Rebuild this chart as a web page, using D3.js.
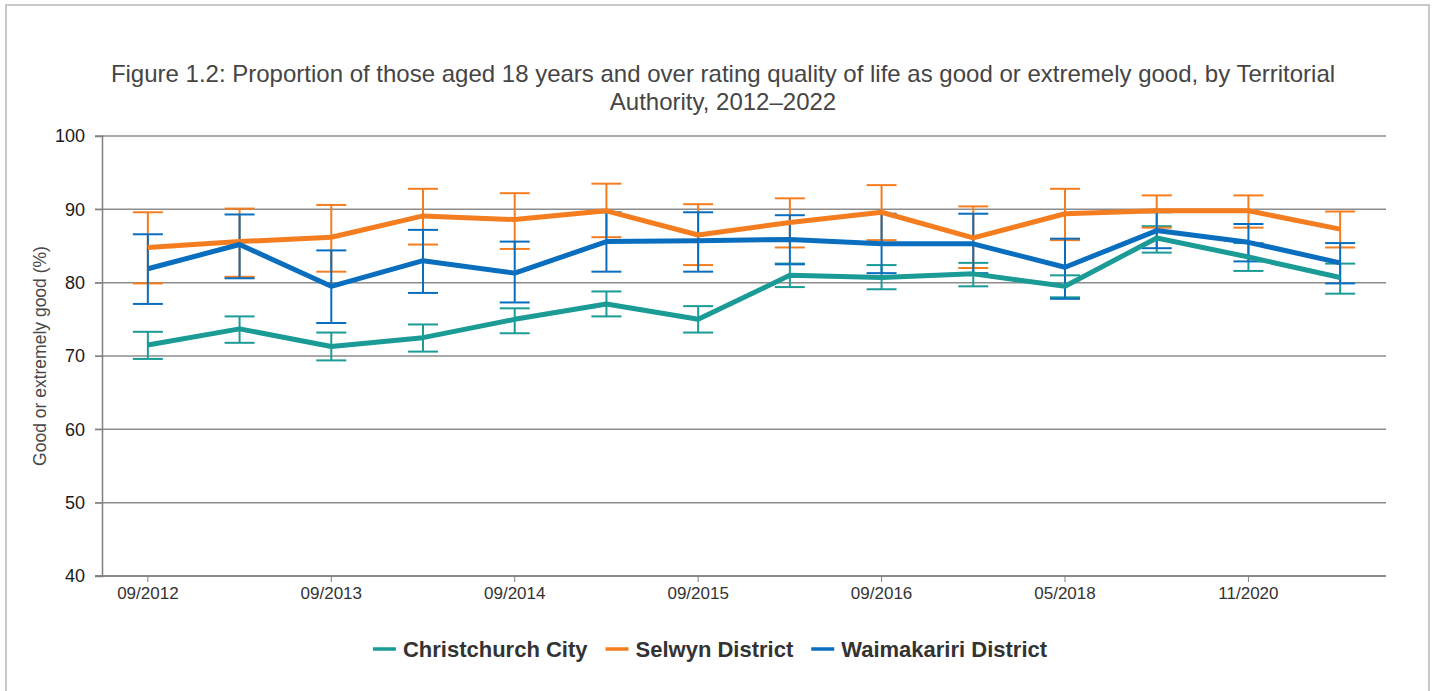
<!DOCTYPE html>
<html>
<head>
<meta charset="utf-8">
<script src="https://cdn.jsdelivr.net/npm/d3@7"></script>
<style>
    body { margin: 0; background: #fff; }
    svg { display: block; }
    .axis path, .axis line { stroke: #808080; }
    .grid line { stroke: #8c8c8c; stroke-width: 1.5; }
</style>
</head>
<body>
<div id="chart"></div>
<script>
// survey periods (only every second one is labelled on the axis)
const periods = ['09/2012', '', '09/2013', '', '09/2014', '', '09/2015', '', '09/2016', '', '05/2018', '', '11/2020', ''];
const seriesNames = ['Christchurch City', 'Selwyn District', 'Waimakariri District'];
const seriesColors = ['#1a9b96', '#f47d20', '#0a6ebf'];
const yTicks = [40, 50, 60, 70, 80, 90, 100];

// values (%) and 95% confidence limits
const christchurch = [71.5, 73.7, 71.3, 72.5, 75.0, 77.1, 75.0, 81.0, 80.7, 81.2, 79.5, 86.1, 83.5, 80.7];
const christchurchLow = [69.6, 71.8, 69.4, 70.6, 73.1, 75.4, 73.2, 79.4, 79.1, 79.5, 78.0, 84.1, 81.6, 78.5];
const christchurchHigh = [73.3, 75.4, 73.2, 74.3, 76.5, 78.8, 76.8, 82.6, 82.4, 82.7, 81.0, 87.7, 85.4, 82.6];

const selwyn = [84.8, 85.6, 86.2, 89.1, 88.6, 89.8, 86.5, 88.2, 89.6, 86.1, 89.4, 89.8, 89.8, 87.3];
const selwynLow = [79.9, 80.8, 81.5, 85.2, 84.6, 86.2, 82.4, 84.8, 85.8, 82.0, 85.8, 87.5, 87.5, 84.8];
const selwynHigh = [89.6, 90.1, 90.6, 92.8, 92.2, 93.5, 90.7, 91.5, 93.3, 90.4, 92.8, 91.9, 91.9, 89.7];

const waimakariri = [81.9, 85.2, 79.5, 83.0, 81.3, 85.6, 85.7, 85.9, 85.3, 85.3, 82.1, 87.1, 85.5, 82.7];
const waimakaririLow = [77.1, 80.6, 74.5, 78.6, 77.3, 81.5, 81.5, 82.5, 81.3, 81.3, 77.8, 84.7, 82.9, 79.9];
const waimakaririHigh = [86.6, 89.3, 84.4, 87.2, 85.6, 89.6, 89.6, 89.2, 89.4, 89.4, 86.0, 89.6, 88.0, 85.4];

const width = 1436, height = 691;
const margin = { top: 136, right: 50, bottom: 115, left: 102 };
const innerW = width - margin.left - margin.right;
const innerH = height - margin.top - margin.bottom;

const series = [
    { name: seriesNames[0], color: seriesColors[0], value: christchurch, low: christchurchLow, high: christchurchHigh },
    { name: seriesNames[1], color: seriesColors[1], value: selwyn, low: selwynLow, high: selwynHigh },
    { name: seriesNames[2], color: seriesColors[2], value: waimakariri, low: waimakaririLow, high: waimakaririHigh }
];

const svg = d3.select('#chart').append('svg')
    .attr('width', width)
    .attr('height', height);

// outer frame
svg.append('rect')
    .attr('x', 6).attr('y', 5)
    .attr('width', 1423).attr('height', 700)
    .attr('fill', 'none')
    .attr('stroke', '#c8c8c8')
    .attr('stroke-width', 2);

// title
svg.append('text')
    .attr('text-anchor', 'middle')
    .style('font-family', '"Liberation Sans", Arial, sans-serif')
    .style('font-size', '24px')
    .attr('fill', '#454545')
    .selectAll('tspan')
    .data(['Figure 1.2: Proportion of those aged 18 years and over rating quality of life as good or extremely good, by Territorial', 'Authority, 2012\u20132022'])
    .join('tspan')
    .attr('x', 723)
    .attr('y', (d, i) => 82 + i * 28)
    .text(d => d);

const chart = svg.append('g')
    .attr('transform', `translate(${margin.left},${margin.top})`);

const x = d3.scaleBand()
    .domain(d3.range(periods.length))
    .range([0, innerW]);

const y = d3.scaleLinear()
    .domain([40, 100])
    .range([innerH, 0]);

const cx = i => x(i) + x.bandwidth() / 2;

// horizontal grid lines
chart.append('g')
    .attr('class', 'grid')
    .selectAll('line')
    .data(yTicks)
    .join('line')
    .attr('x1', -7)
    .attr('x2', innerW)
    .attr('y1', d => y(d))
    .attr('y2', d => y(d));

// y axis
const yAxisG = chart.append('g')
    .attr('class', 'axis y-axis')
    .call(d3.axisLeft(y).tickValues(yTicks).tickSize(7).tickPadding(10));
yAxisG.select('.domain').attr('stroke-width', 1.5);
yAxisG.selectAll('text')
    .style('font-family', '"Liberation Sans", Arial, sans-serif')
    .style('font-size', '18px')
    .attr('fill', '#1a1a1a');

// x axis, tick on every second period
const xAxisG = chart.append('g')
    .attr('class', 'axis x-axis')
    .attr('transform', `translate(0,${innerH})`)
    .call(d3.axisBottom(x)
        .tickValues(d3.range(0, periods.length, 2))
        .tickFormat(i => periods[i])
        .tickSizeOuter(0)
        .tickSize(6)
        .tickPadding(5));
xAxisG.select('.domain').attr('d', `M-7,0H${innerW}`).attr('stroke-width', 1.5);
xAxisG.selectAll('text')
    .style('font-family', '"Liberation Sans", Arial, sans-serif')
    .style('font-size', '17px')
    .attr('fill', '#333');

// y axis title
svg.append('text')
    .attr('transform', `translate(46,${margin.top + innerH / 2}) rotate(-90)`)
    .attr('text-anchor', 'middle')
    .style('font-family', '"Liberation Sans", Arial, sans-serif')
    .style('font-size', '17.5px')
    .attr('fill', '#484848')
    .text('Good or extremely good (%)');

// error bars
const capW = 15;
series.forEach(s => {
    const g = chart.append('g').attr('stroke', s.color).attr('stroke-width', 2);
    const idx = d3.range(s.value.length);
    g.selectAll('.bar').data(idx).join('line')
        .attr('class', 'bar')
        .attr('x1', cx).attr('x2', cx)
        .attr('y1', i => y(s.low[i])).attr('y2', i => y(s.high[i]));
    g.selectAll('.cap-hi').data(idx).join('line')
        .attr('class', 'cap-hi')
        .attr('x1', i => cx(i) - capW).attr('x2', i => cx(i) + capW)
        .attr('y1', i => y(s.high[i])).attr('y2', i => y(s.high[i]));
    g.selectAll('.cap-lo').data(idx).join('line')
        .attr('class', 'cap-lo')
        .attr('x1', i => cx(i) - capW).attr('x2', i => cx(i) + capW)
        .attr('y1', i => y(s.low[i])).attr('y2', i => y(s.low[i]));
});

// lines
const line = d3.line()
    .x((d, i) => cx(i))
    .y(d => y(d));

chart.selectAll('.line')
    .data(series)
    .join('path')
    .attr('class', 'line')
    .attr('fill', 'none')
    .attr('stroke', d => d.color)
    .attr('stroke-width', 5)
    .attr('stroke-linejoin', 'round')
    .attr('d', d => line(d.value));

// legend, laid out from measured text widths and centred
const legend = svg.append('g');
const items = legend.selectAll('g')
    .data(series)
    .join('g');
items.append('line')
    .attr('x1', 0).attr('x2', 23)
    .attr('y1', 649).attr('y2', 649)
    .attr('stroke', d => d.color)
    .attr('stroke-width', 3.5);
items.append('text')
    .attr('x', 30)
    .attr('y', 657)
    .style('font-family', '"Liberation Sans", Arial, sans-serif')
    .style('font-size', '22px')
    .style('font-weight', 'bold')
    .attr('fill', '#333')
    .text(d => d.name);

let offset = 0;
const offsets = [];
items.each(function () {
    offsets.push(offset);
    offset += 30 + this.querySelector('text').getComputedTextLength() + 18;
});
const total = offset - 18;
const startX = 710 - total / 2;
items.attr('transform', (d, i) => `translate(${startX + offsets[i]},0)`);
</script>
</body>
</html>
